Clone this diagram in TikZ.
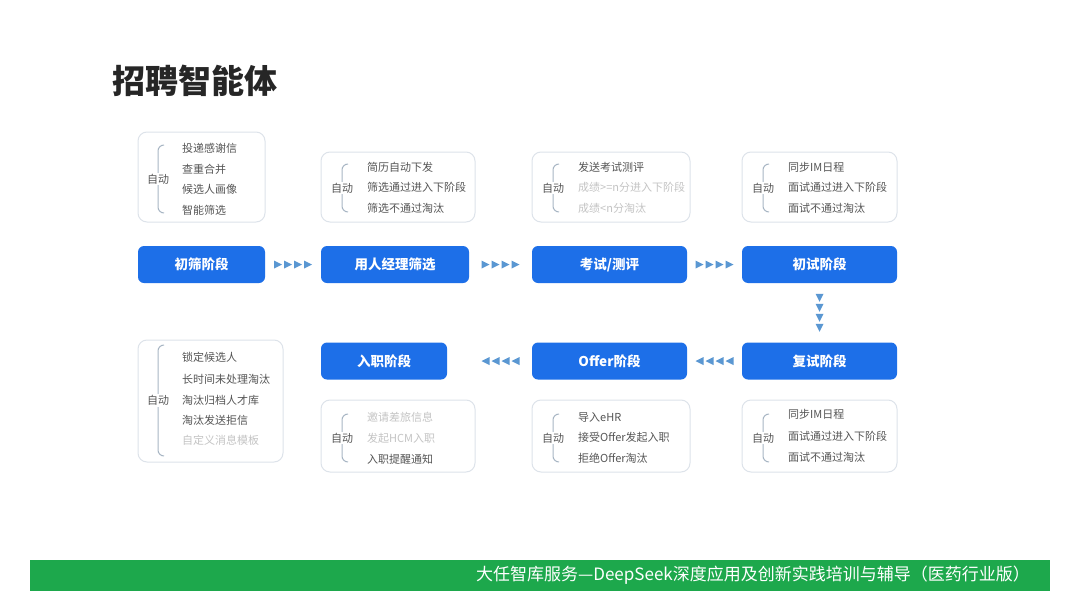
\documentclass[tikz,border=0pt]{standalone}
\usepackage{fontspec}
\setmainfont{Noto Sans CJK SC}
\usetikzlibrary{calc}
\definecolor{stageblue}{HTML}{1D6FE8}
\definecolor{tricol}{HTML}{5A97D2}
\definecolor{boxline}{HTML}{DDE3EA}
\definecolor{itemtxt}{HTML}{555555}
\definecolor{fadetxt}{HTML}{C4C4C4}
\definecolor{bracecol}{HTML}{A8B6C4}
\definecolor{footgreen}{HTML}{1DA84C}
\definecolor{titletxt}{HTML}{262626}
\tikzset{
  stagebox/.style={draw=none, fill=stageblue, rounded corners=6pt, text=white,
    font=\fontsize{13.5}{14}\selectfont\bfseries, minimum height=37pt, inner sep=0pt},
  detailbox/.style={draw=boxline, line width=1pt, fill=white, rounded corners=9pt},
  item/.style={anchor=west, text=itemtxt, font=\fontsize{11}{12}\selectfont, inner sep=0pt},
  fade/.style={item, text=fadetxt},
  autolbl/.style={text=itemtxt, font=\fontsize{11}{12}\selectfont, fill=white, inner sep=1pt},
  bracepath/.style={draw=bracecol, line width=1pt},
  tri/.style={fill=tricol}
}
\newcommand{\autobrace}[4]{%
  \draw[bracepath] (#2+6,#3) to[out=180,in=90] (#2,#3+6) -- (#2,#4-6) to[out=-90,in=180] (#2+6,#4);
  \node[autolbl] (#1) at (#2,{(#3+#4)/2}) {自动};
}
\newcommand{\rtris}[1]{\foreach \d in {-15,-5,5,15} \fill[tri] ($(#1)+(\d,0)$) ++(-4,-4) -- ++(8,4) -- ++(-8,4) -- cycle;}
\newcommand{\ltris}[1]{\foreach \d in {-15,-5,5,15} \fill[tri] ($(#1)+(\d,0)$) ++(4,-4) -- ++(-8,4) -- ++(8,4) -- cycle;}
\newcommand{\dtris}[1]{\foreach \d in {-15,-5,5,15} \fill[tri] ($(#1)+(0,\d)$) ++(-4,-4) -- ++(8,0) -- ++(-4,8) -- cycle;}
\begin{document}
\begin{tikzpicture}[x=1pt,y=-1pt]
\useasboundingbox[fill=white] (0,0) rectangle (1080,608);

% title
\node[anchor=west, text=titletxt, font=\fontsize{33}{36}\selectfont\bfseries, inner sep=0pt] (title) at (112,81) {招聘智能体};

% detail boxes top row
\node[detailbox, minimum width=127pt, minimum height=90pt] (d1) at (201.5,177) {};
\autobrace{a1}{158}{145}{213}
\node[item] (d1a) at (182,148) {投递感谢信};
\node[item] (d1b) at (182,169) {查重合并};
\node[item] (d1c) at (182,189) {候选人画像};
\node[item] (d1d) at (182,210) {智能筛选};

\node[detailbox, minimum width=154pt, minimum height=70pt] (d2) at (398,187) {};
\autobrace{a2}{342}{164}{212}
\node[item] (d2a) at (367,167) {简历自动下发};
\node[item] (d2b) at (367,187) {筛选通过进入下阶段};
\node[item] (d2c) at (367,208) {筛选不通过淘汰};

\node[detailbox, minimum width=158pt, minimum height=70pt] (d3) at (611,187) {};
\autobrace{a3}{553}{164}{212}
\node[item] (d3a) at (578,167) {发送考试测评};
\node[fade] (d3b) at (578,187) {成绩>=n分进入下阶段};
\node[fade] (d3c) at (578,208) {成绩<n分淘汰};

\node[detailbox, minimum width=155pt, minimum height=70pt] (d4) at (819.5,187) {};
\autobrace{a4}{763}{164}{212}
\node[item] (d4a) at (788,167) {同步IM日程};
\node[item] (d4b) at (788,187) {面试通过进入下阶段};
\node[item] (d4c) at (788,208) {面试不通过淘汰};

% stage boxes
\node[stagebox, minimum width=127pt] (s1) at (201.5,264.5) {初筛阶段};
\node[stagebox, minimum width=148pt] (s2) at (395,264.5) {用人经理筛选};
\node[stagebox, minimum width=155pt] (s3) at (609.5,264.5) {考试/测评};
\node[stagebox, minimum width=155pt] (s4) at (819.5,264.5) {初试阶段};
\node[stagebox, minimum width=155pt] (s5) at (819.5,361) {复试阶段};
\node[stagebox, minimum width=155pt] (s6) at (609.5,361) {Offer阶段};
\node[stagebox, minimum width=126pt] (s7) at (384,361) {入职阶段};

% triangle connectors
\coordinate (m1) at ($(s1.east)!.5!(s2.west)$);
\coordinate (m2) at ($(s2.east)!.5!(s3.west)$);
\coordinate (m3) at ($(s3.east)!.5!(s4.west)$);
\coordinate (m4) at ($(s4.south)!.5!(s5.north)$);
\coordinate (m5) at ($(s5.west)!.5!(s6.east)$);
\coordinate (m6) at (m2 |- s6.west);
\rtris{m1}
\rtris{m2}
\rtris{m3}
\dtris{m4}
\ltris{m5}
\ltris{m6}

% detail boxes bottom row
\node[detailbox, minimum width=145pt, minimum height=122pt] (d5) at (210.5,401) {};
\autobrace{a5}{158}{345}{456}
\node[item] (d5a) at (182,357) {锁定候选人};
\node[item] (d5b) at (182,379) {长时间未处理淘汰};
\node[item] (d5c) at (182,400) {淘汰归档人才库};
\node[item] (d5d) at (182,420) {淘汰发送拒信};
\node[fade] (d5e) at (182,440) {自定义消息模板};

\node[detailbox, minimum width=154pt, minimum height=72pt] (d6) at (398,436) {};
\autobrace{a6}{342}{414}{462}
\node[fade] (d6a) at (367,417) {邀请差旅信息};
\node[fade] (d6b) at (367,438) {发起HCM入职};
\node[item] (d6c) at (367,459) {入职提醒通知};

\node[detailbox, minimum width=158pt, minimum height=72pt] (d7) at (611,436) {};
\autobrace{a7}{553}{414}{462}
\node[item] (d7a) at (578,417) {导入eHR};
\node[item] (d7b) at (578,437) {接受Offer发起入职};
\node[item] (d7c) at (578,458) {拒绝Offer淘汰};

\node[detailbox, minimum width=155pt, minimum height=72pt] (d8) at (819.5,436) {};
\autobrace{a8}{763}{414}{462}
\node[item] (d8a) at (788,414) {同步IM日程};
\node[item] (d8b) at (788,436) {面试通过进入下阶段};
\node[item] (d8c) at (788,457) {面试不通过淘汰};

% footer
\node[fill=footgreen, minimum width=1020pt, minimum height=31pt, inner sep=0pt] (foot) at (540,575.5) {};
\node[anchor=east, text=white, font=\fontsize{17}{19}\selectfont, inner sep=0pt] (foottxt) at (1030,575) {大任智库服务—DeepSeek深度应用及创新实践培训与辅导（医药行业版）};
\end{tikzpicture}
\end{document}
